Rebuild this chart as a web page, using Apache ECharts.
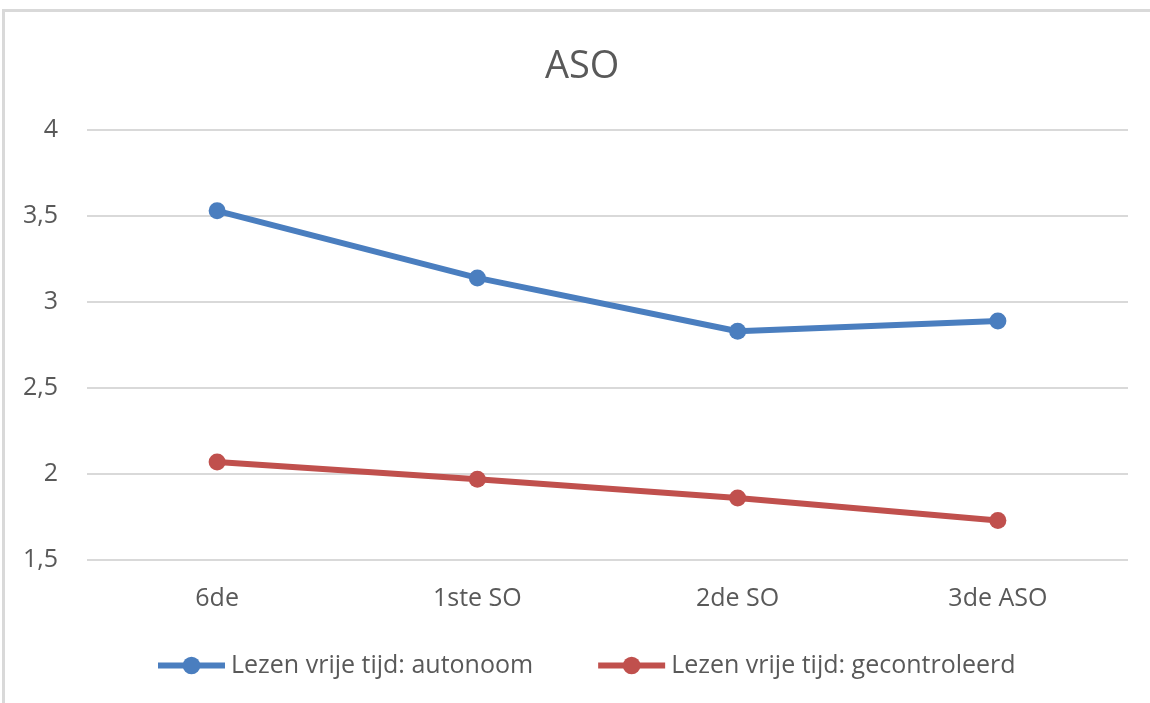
<!DOCTYPE html>
<html>
<head>
<meta charset="utf-8">
<script src="https://cdn.jsdelivr.net/npm/echarts@6/dist/echarts.min.js"></script>
<style>
  html, body { margin: 0; padding: 0; background: #fff; }
  #frame { position: absolute; left: 2px; top: 9px; width: 1200px; height: 720px;
           border-top: 3px solid #d9d9d9; border-left: 3px solid #d9d9d9; }
  #chart { position: absolute; left: 0; top: 0; width: 1150px; height: 703px; }
</style>
</head>
<body>
<div id="frame"></div>
<div id="chart"></div>
<script>
// categorieen en waarden
var categories = ['6de', '1ste SO', '2de SO', '3de ASO']
var autonoom = [3.53, 3.14, 2.83, 2.89]
var gecontroleerd = [2.07, 1.97, 1.86, 1.73]
var seriesNames = ['Lezen vrije tijd: autonoom', 'Lezen vrije tijd: gecontroleerd']

var chart = echarts.init(document.getElementById('chart'), null, { renderer: 'canvas' })
var textColor = '#595959'
var fontFamily = '"Open Sans", "Noto Sans", sans-serif'

var option = {
  backgroundColor: 'transparent',
  color: ['#4a7ebf', '#c0504d'],
  title: {
    text: 'ASO',
    left: 540,
    top: 43,
    textStyle: { color: textColor, fontSize: 38, fontWeight: 'normal', fontFamily: fontFamily }
  },
  legend: {
    top: 648,
    left: 150,
    itemWidth: 67,
    itemHeight: 22,
    itemGap: 62,
    lineStyle: { width: 6 },
    textStyle: { color: textColor, fontSize: 25, fontFamily: fontFamily, padding: [0, 0, 0, 1] },
    data: seriesNames
  },
  grid: { left: 87, right: 22, top: 130, bottom: 143 },
  xAxis: {
    type: 'category',
    data: categories,
    boundaryGap: true,
    axisLine: { show: false },
    axisTick: { show: false },
    axisLabel: { color: textColor, fontSize: 25, fontFamily: fontFamily, margin: 26 }
  },
  yAxis: {
    type: 'value',
    min: 1.5,
    max: 4,
    interval: 0.5,
    axisLine: { show: false },
    axisTick: { show: false },
    splitLine: { lineStyle: { color: '#d9d9d9', width: 2 } },
    axisLabel: {
      color: textColor, fontSize: 25, fontFamily: fontFamily, margin: 29,
      formatter: function (v) { return String(v).replace('.', ',') }
    }
  },
  series: [{
    name: seriesNames[0],
    type: 'line',
    data: autonoom,
    symbol: 'circle',
    symbolSize: 17,
    lineStyle: { width: 6 },
    animation: false
  }, {
    name: seriesNames[1],
    type: 'line',
    data: gecontroleerd,
    symbol: 'circle',
    symbolSize: 17,
    lineStyle: { width: 6 },
    animation: false
  }]
}
chart.setOption(option)
</script>
</body>
</html>
